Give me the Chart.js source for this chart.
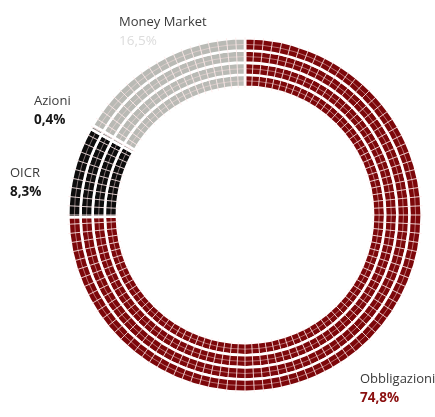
<!DOCTYPE html>
<html>
<head>
<meta charset="utf-8">
<script src="https://cdn.jsdelivr.net/npm/chart.js@4.4.0/dist/chart.umd.min.js"></script>
<style>
  body { margin: 0; background: #fff; }
  .wrap { position: relative; width: 435px; height: 417px; }
  .lbl { position: absolute; font-family: 'Open Sans', sans-serif; font-size: 13px; line-height: 19px; color: #3a3a3a; white-space: nowrap; }
  .lbl b { display: block; font-size: 13.5px; font-weight: 700; }
</style>
</head>
<body>
<div class="wrap" id="wrap">
  <canvas id="ring"></canvas>
</div>
<script>
// portfolio split, clockwise from 12 o'clock
const categories = ['Obbligazioni', 'OICR', 'Azioni', 'Money Market'];
const shares = [74.8, 8.3, 0.4, 16.5];
const colors = ['#7c070a', '#0c0c0c', '#7c7c7a', '#b9bab5'];
const pctColors = ['#8b0f0f', '#161616', '#161616', '#dcdcdc'];
// label boxes (left, top) in px
const labelPos = [[360, 369], [10, 163], [34, 91], [119, 12]];

const RINGS = 4;       // concentric bands
const CELL_DEG = 3;    // angular size of one cell

const fmt = v => v.toFixed(1).replace('.', ',') + '%';

// light cell grid: radial cuts plus a fine line along the middle of every band
const cellGrid = {
  id: 'cellGrid',
  afterDatasetsDraw(chart) {
    const ctx = chart.ctx;
    const metas = chart.getSortedVisibleDatasetMetas();
    let rIn = Infinity, rOut = 0, cx = 0, cy = 0;
    ctx.save();
    ctx.strokeStyle = 'rgba(255,225,225,0.6)';
    ctx.lineWidth = 0.8;
    metas.forEach(meta => {
      const a = meta.data[0];
      cx = a.x; cy = a.y;
      rIn = Math.min(rIn, a.innerRadius);
      rOut = Math.max(rOut, a.outerRadius);
      ctx.beginPath();
      ctx.arc(a.x, a.y, (a.innerRadius + a.outerRadius) / 2, 0, Math.PI * 2);
      ctx.stroke();
    });
    ctx.strokeStyle = 'rgba(255,235,235,0.85)';
    ctx.lineWidth = 1;
    for (let k = 0; k < 360 / CELL_DEG; k++) {
      const t = -Math.PI / 2 + k * CELL_DEG * Math.PI / 180;
      ctx.beginPath();
      ctx.moveTo(cx + Math.cos(t) * (rIn - 1), cy + Math.sin(t) * (rIn - 1));
      ctx.lineTo(cx + Math.cos(t) * (rOut + 1), cy + Math.sin(t) * (rOut + 1));
      ctx.stroke();
    }
    ctx.restore();
  }
};

const datasets = [];
for (let i = 0; i < RINGS; i++) {
  datasets.push({
    data: shares,
    backgroundColor: colors,
    borderColor: '#ffffff',
    borderWidth: 2.6,
    hoverOffset: 0
  });
}

new Chart(document.getElementById('ring'), {
  type: 'doughnut',
  data: { labels: categories, datasets },
  options: {
    responsive: true,
    maintainAspectRatio: false,
    animation: false,
    cutout: '72.5%',
    layout: { padding: { left: 67, right: 12, top: 37, bottom: 24 } },
    plugins: { legend: { display: false }, tooltip: { enabled: false } }
  },
  plugins: [cellGrid]
});

// category names with their shares
const wrap = document.getElementById('wrap');
categories.forEach((name, i) => {
  const d = document.createElement('div');
  d.className = 'lbl';
  d.style.left = labelPos[i][0] + 'px';
  d.style.top = labelPos[i][1] + 'px';
  d.innerHTML = name + '<b style="color:' + pctColors[i] + ';font-weight:' + (i === 3 ? 400 : 700) + '">' + fmt(shares[i]) + '</b>';
  wrap.appendChild(d);
});
</script>
</body>
</html>
